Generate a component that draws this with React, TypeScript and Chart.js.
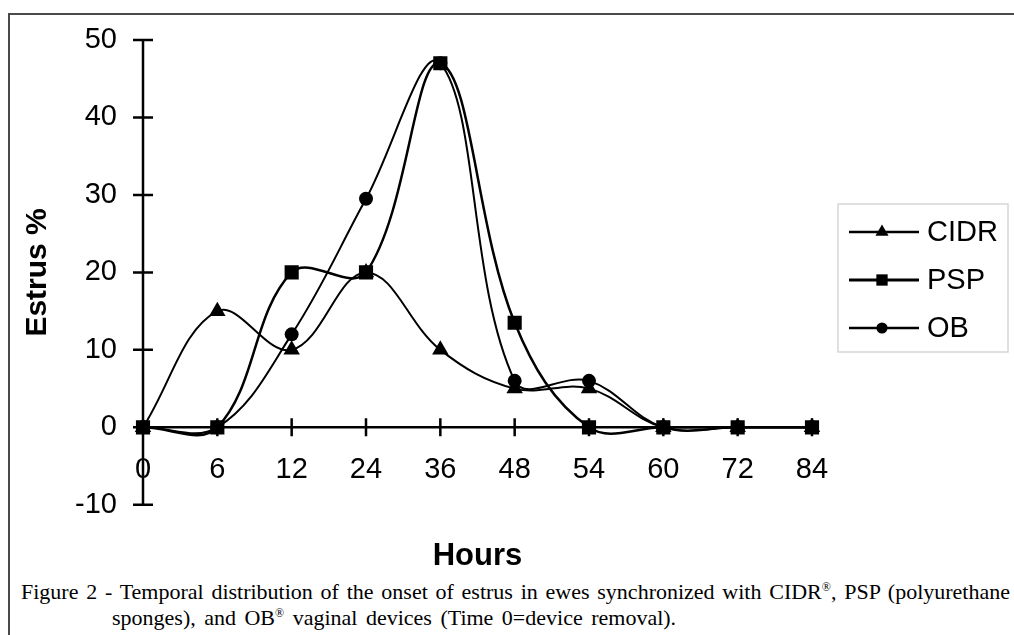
import React, { useEffect, useRef } from 'react';
import { Chart, registerables } from 'chart.js';

Chart.register(...registerables);

// data
const hours = ['0', '6', '12', '24', '36', '48', '54', '60', '72', '84'];
const cidr = [0, 15, 10, 20, 10, 5, 5, 0, 0, 0];
const psp = [0, 0, 20, 20, 47, 13.5, 0, 0, 0, 0];
const ob = [0, 0, 12, 29.5, 47, 6, 6, 0, 0, 0];
const yTicks = [-10, 0, 10, 20, 30, 40, 50];

const SANS = "'Liberation Sans', Arial, Helvetica, sans-serif";
const SERIF = "'Liberation Serif', 'Times New Roman', Times, serif";

const drawMarker = (ctx: CanvasRenderingContext2D, style: string, x: number, y: number, r: number) => {
  ctx.beginPath();
  if (style === 'triangle') {
    ctx.moveTo(x, y - r);
    ctx.lineTo(x - r * 0.866, y + r * 0.5);
    ctx.lineTo(x + r * 0.866, y + r * 0.5);
    ctx.closePath();
  } else if (style === 'rect') {
    const s = r * Math.SQRT1_2;
    ctx.rect(x - s, y - s, 2 * s, 2 * s);
  } else {
    ctx.arc(x, y, r, 0, Math.PI * 2);
  }
  ctx.fill();
};

// axis lines with tick marks crossing them, like the original
const crossAxes = {
  id: 'crossAxes',
  beforeDatasetsDraw(chart: any) {
    const { ctx, scales: { x, y } } = chart;
    const x0 = x.getPixelForValue(0);
    const x1 = x.getPixelForValue(hours.length - 1);
    const y0 = y.getPixelForValue(0);
    ctx.save();
    ctx.strokeStyle = '#000';
    ctx.lineWidth = 2.5;
    ctx.beginPath();
    ctx.moveTo(x0, y.getPixelForValue(yTicks[yTicks.length - 1]));
    ctx.lineTo(x0, y.getPixelForValue(yTicks[0]));
    ctx.moveTo(x0, y0);
    ctx.lineTo(x1, y0);
    y.ticks.forEach((t: any) => {
      const py = y.getPixelForValue(t.value);
      ctx.moveTo(x0 - 10, py);
      ctx.lineTo(x0 + 10, py);
    });
    x.ticks.forEach((_t: any, i: number) => {
      if (i === 0) return;
      const px = x.getPixelForTick(i);
      ctx.moveTo(px, y0 - 9);
      ctx.lineTo(px, y0 + 9);
    });
    ctx.stroke();
    ctx.restore();
  },
};

// boxed legend with line + marker samples
const boxLegend = {
  id: 'boxLegend',
  afterDraw(chart: any) {
    const { ctx, chartArea } = chart;
    const left = chartArea.right + 26;
    const top = 189;
    ctx.save();
    ctx.strokeStyle = '#d6d6d6';
    ctx.lineWidth = 1.5;
    ctx.strokeRect(left, top, 170, 148);
    chart.data.datasets.forEach((ds: any, i: number) => {
      const cy = top + 28 + i * 48;
      ctx.strokeStyle = '#000';
      ctx.fillStyle = '#000';
      ctx.lineWidth = ds.borderWidth + 0.5;
      ctx.beginPath();
      ctx.moveTo(left + 11, cy);
      ctx.lineTo(left + 81, cy);
      ctx.stroke();
      drawMarker(ctx, ds.pointStyle, left + 44, cy, ds.pointRadius * 0.8);
      ctx.font = `29px ${SANS}`;
      ctx.textBaseline = 'middle';
      ctx.textAlign = 'left';
      ctx.fillText(ds.label, left + 89, cy + 1);
    });
    ctx.restore();
  },
};

export default function App() {
  const canvasRef = useRef<HTMLCanvasElement>(null);
  const chartRef = useRef<Chart | null>(null);

  useEffect(() => {
    if (!canvasRef.current) return;
    const ctx = canvasRef.current.getContext('2d');
    if (!ctx) return;

    Chart.defaults.font.family = SANS;
    Chart.defaults.color = '#000';

    const common = {
      borderColor: '#000',
      backgroundColor: '#000',
      pointBackgroundColor: '#000',
      pointBorderWidth: 0,
      tension: 0.38,
      fill: false,
    };

    chartRef.current = new Chart(ctx, {
      type: 'line',
      data: {
        labels: hours,
        datasets: [
          { ...common, label: 'CIDR', data: cidr, borderWidth: 2, pointStyle: 'triangle', pointRadius: 9.5, order: 2 },
          { ...common, label: 'PSP', data: psp, borderWidth: 2.5, pointStyle: 'rect', pointRadius: 10, order: 0 },
          { ...common, label: 'OB', data: ob, borderWidth: 2, pointStyle: 'circle', pointRadius: 7, order: 1 },
        ],
      },
      options: {
        responsive: false,
        animation: false,
        layout: { padding: { left: 0, top: 25, right: 202, bottom: 0 } },
        plugins: {
          legend: { display: false },
          tooltip: { enabled: false },
          title: {
            display: true,
            text: 'Hours',
            position: 'bottom',
            fullSize: false,
            font: { size: 31, weight: 'bold', family: SANS },
            color: '#000',
            padding: { top: 33, bottom: 2 },
          },
        },
        scales: {
          x: {
            type: 'category',
            position: { y: 0 },
            offset: false,
            grid: { display: false, drawTicks: true, tickLength: 25 },
            border: { display: false },
            ticks: { font: { size: 29 }, padding: 0, autoSkip: false, maxRotation: 0, color: '#000' },
          },
          y: {
            min: -10,
            max: 50,
            grid: { display: false, drawTicks: false },
            border: { display: false },
            ticks: { font: { size: 29 }, padding: 26, stepSize: 10, color: '#000' },
            afterBuildTicks: (scale: any) => {
              scale.ticks = yTicks.map((v) => ({ value: v }));
            },
            afterFit: (scale: any) => {
              scale.width = 133;
              scale.paddingTop = 0;
              scale.paddingBottom = 0;
            },
            title: {
              display: true,
              text: 'Estrus %',
              font: { size: 30, weight: 'bold', family: SANS },
              color: '#000',
              padding: { top: 10, bottom: 0 },
            },
          },
        },
      },
      plugins: [crossAxes, boxLegend],
    });

    return () => {
      chartRef.current?.destroy();
      chartRef.current = null;
    };
  }, []);

  return (
    <div
      style={{
        position: 'absolute',
        left: 8,
        top: 13,
        width: 1006,
        height: 622,
        boxSizing: 'border-box',
        borderTop: '2px solid #4a4a4a',
        borderLeft: '2px solid #4a4a4a',
        overflow: 'hidden',
        background: '#fff',
      }}
    >
      <canvas ref={canvasRef} width={1004} height={562} style={{ display: 'block' }} />
      <div
        style={{
          position: 'absolute',
          left: 11,
          top: 564,
          width: 989,
          fontFamily: SERIF,
          fontSize: 22,
          lineHeight: '26px',
          color: '#000',
        }}
      >
        <div style={{ textAlign: 'justify', textAlignLast: 'justify', whiteSpace: 'nowrap' as const }}>
          Figure 2 - Temporal distribution of the onset of estrus in ewes synchronized with CIDR
          <sup style={{ fontSize: 12, lineHeight: 0 }}>®</sup>, PSP (polyurethane
        </div>
        <div style={{ paddingLeft: 91, wordSpacing: 3 }}>
          sponges), and OB<sup style={{ fontSize: 12, lineHeight: 0 }}>®</sup> vaginal devices (Time 0=device removal).
        </div>
      </div>
    </div>
  );
}
